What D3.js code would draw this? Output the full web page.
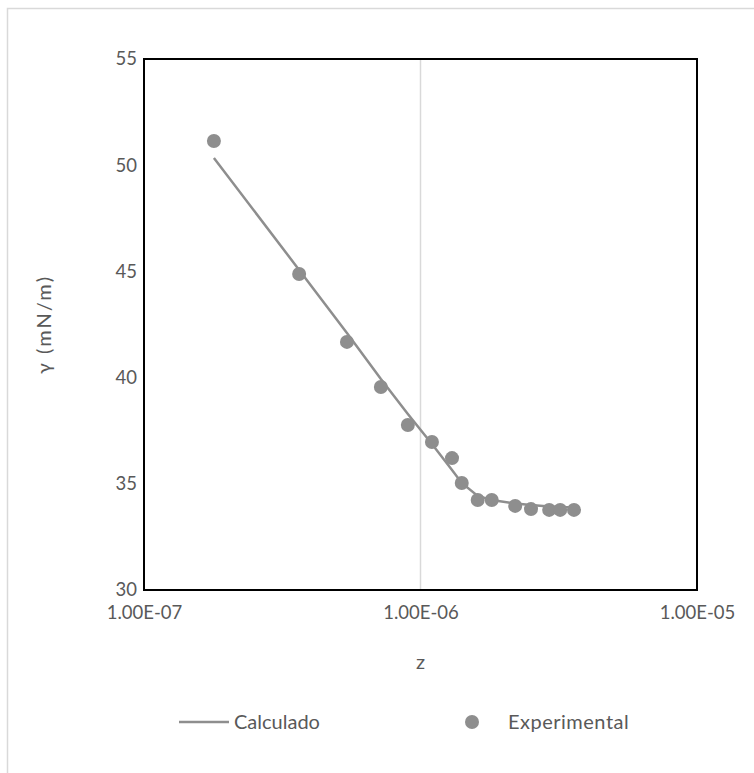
<!DOCTYPE html>
<html>
<head>
<meta charset="utf-8">
<script src="https://cdn.jsdelivr.net/npm/d3@7/dist/d3.min.js"></script>
<style>
  body { margin: 0; background: #fff; }
  svg { display: block; }
</style>
</head>
<body>
<div id="chart"></div>
<script>
// valores
const zExp = [1.79e-7, 3.64e-7, 5.42e-7, 7.19e-7, 9.0e-7, 1.10e-6, 1.30e-6, 1.41e-6,
  1.61e-6, 1.81e-6, 2.20e-6, 2.51e-6, 2.92e-6, 3.20e-6, 3.59e-6];
const gammaExp = [51.14, 44.88, 41.68, 39.56, 37.77, 36.97, 36.21, 35.04,
  34.24, 34.24, 33.96, 33.81, 33.77, 33.77, 33.77];
const gammaCalc = [50.34, 45.07, 42.10, 39.93, 38.29, 36.87, 35.65, 35.04,
  34.43, 34.24, 34.07, 34.00, 33.93, 33.91, 33.89];
const xTicks = [1e-7, 1e-6, 1e-5];
const yTicks = [30, 35, 40, 45, 50, 55];

const W = 754, H = 773;
const m = { left: 144, top: 59, right: 697, bottom: 590 };
const FONT = 'Lato, "Open Sans", sans-serif';
const GREY = '#8e8e8e';
const TXT = '#595959';

const svg = d3.select('#chart').append('svg')
  .attr('width', W).attr('height', H);

// marco exterior del gráfico
svg.append('rect')
  .attr('x', 7.5).attr('y', 8.5)
  .attr('width', W + 20).attr('height', H + 20)
  .attr('fill', 'none')
  .attr('stroke', '#d9d9d9')
  .attr('stroke-width', 1.5);

const x = d3.scaleLog().domain([1e-7, 1e-5]).range([m.left, m.right]);
const y = d3.scaleLinear().domain([30, 55]).range([m.bottom, m.top]);

// línea de división en 1E-06
svg.append('g')
  .selectAll('line')
  .data(xTicks.slice(1, -1))
  .enter().append('line')
  .attr('x1', d => x(d)).attr('x2', d => x(d))
  .attr('y1', m.top).attr('y2', m.bottom)
  .attr('stroke', '#d9d9d9')
  .attr('stroke-width', 1.5);

// ejes
const xAxis = svg.append('g')
  .attr('transform', `translate(0,${m.bottom})`)
  .call(d3.axisBottom(x).tickValues(xTicks).tickSize(0).tickPadding(29)
    .tickFormat(d => d.toExponential(2).toUpperCase().replace(/E([+-])(\d)$/, 'E$10$2')));
const yAxis = svg.append('g')
  .attr('transform', `translate(${m.left},0)`)
  .call(d3.axisLeft(y).tickValues(yTicks).tickSize(0).tickPadding(7));

[xAxis, yAxis].forEach(g => {
  g.select('.domain').remove();
  g.selectAll('text')
    .attr('fill', TXT)
    .style('font-family', FONT)
    .style('font-size', '18.5px');
});
xAxis.selectAll('text').attr('dy', '0');

// marco del área de trazado
svg.append('rect')
  .attr('x', m.left).attr('y', m.top)
  .attr('width', m.right - m.left).attr('height', m.bottom - m.top)
  .attr('fill', 'none')
  .attr('stroke', '#000')
  .attr('stroke-width', 2);

// curva calculada
const line = d3.line()
  .x((d, i) => x(zExp[i]))
  .y(d => y(d));

svg.append('path')
  .datum(gammaCalc)
  .attr('d', line)
  .attr('fill', 'none')
  .attr('stroke', GREY)
  .attr('stroke-width', 2.5);

// puntos experimentales
svg.append('g')
  .selectAll('circle')
  .data(gammaExp)
  .enter().append('circle')
  .attr('cx', (d, i) => x(zExp[i]))
  .attr('cy', d => y(d))
  .attr('r', 7)
  .attr('fill', GREY);

// títulos de ejes
svg.append('text')
  .attr('x', (m.left + m.right) / 2).attr('y', 669)
  .attr('text-anchor', 'middle')
  .attr('fill', TXT)
  .style('font-family', FONT).style('font-size', '20px')
  .text('z');

svg.append('text')
  .attr('transform', `translate(51,${(m.top + m.bottom) / 2}) rotate(-90)`)
  .attr('text-anchor', 'middle')
  .attr('fill', TXT)
  .style('font-family', FONT).style('font-size', '20px')
  .style('letter-spacing', '2px')
  .text('γ (mN/m)');

// leyenda
const leg = svg.append('g').attr('transform', 'translate(0,722)');
leg.append('line')
  .attr('x1', 179).attr('x2', 229)
  .attr('stroke', GREY).attr('stroke-width', 2.5);
leg.append('text')
  .attr('x', 234).attr('y', 7)
  .attr('fill', TXT)
  .style('font-family', FONT).style('font-size', '20px')
  .text('Calculado');
leg.append('circle')
  .attr('cx', 472).attr('r', 7).attr('fill', GREY);
leg.append('text')
  .attr('x', 508).attr('y', 7)
  .attr('fill', TXT)
  .style('font-family', FONT).style('font-size', '20px')
  .style('letter-spacing', '0.5px')
  .text('Experimental');
</script>
</body>
</html>
